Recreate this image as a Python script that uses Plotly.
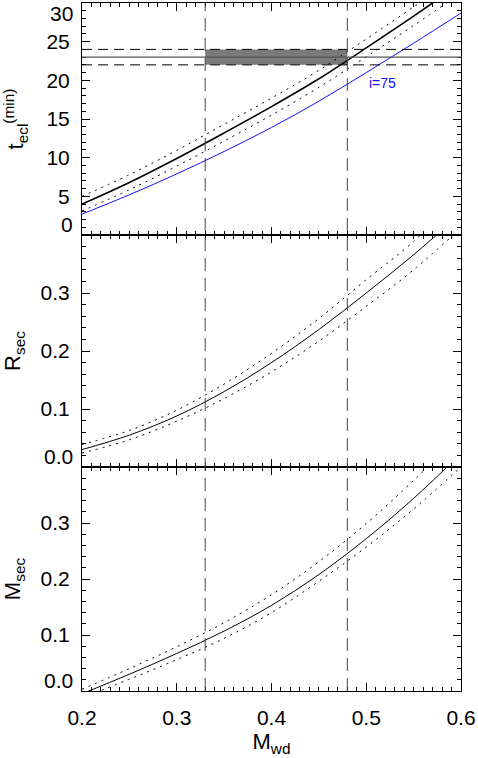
import plotly.graph_objects as go

# ---------------- data ----------------
m_wd = [0.20, 0.25, 0.30, 0.35, 0.40, 0.45, 0.50, 0.55, 0.60]

t_ecl = [4.0, 6.8, 9.9, 13.2, 16.6, 20.2, 24.2, 28.3, 32.6]
t_ecl_hi = [5.0, 7.8, 10.95, 14.3, 17.7, 21.3, 25.35, 29.5, 33.9]
t_ecl_lo = [3.1, 5.85, 8.9, 12.15, 15.5, 19.1, 23.05, 27.1, 31.3]
t_ecl_i75 = [2.7, 5.2, 7.9, 10.8, 13.9, 17.3, 21.0, 24.8, 28.7]

r_sec = [0.030, 0.055, 0.088, 0.130, 0.180, 0.237, 0.300, 0.366, 0.437]
r_sec_hi = [0.039, 0.063, 0.098, 0.143, 0.196, 0.256, 0.323, 0.389, 0.470]
r_sec_lo = [0.024, 0.047, 0.079, 0.118, 0.164, 0.217, 0.277, 0.340, 0.412]

m_sec = [-0.005, 0.030, 0.067, 0.107, 0.153, 0.208, 0.272, 0.344, 0.424]
m_sec_hi = [0.003, 0.040, 0.079, 0.122, 0.172, 0.231, 0.299, 0.376, 0.460]
m_sec_lo = [-0.012, 0.021, 0.056, 0.094, 0.140, 0.196, 0.257, 0.325, 0.400]

m_wd_limits = [0.33, 0.48]
t_obs = 23.0
t_obs_lo = 22.0
t_obs_hi = 24.0

t_ticks = [0, 5, 10, 15, 20, 25, 30]
t_ticktext = ["", "5", "10", "15", "20", "25", ""]
frac_ticks = [0.0, 0.1, 0.2, 0.3, 0.4]
frac_ticktext = ["", "0.1", "0.2", "0.3", ""]
x_ticks = [0.2, 0.3, 0.4, 0.5, 0.6]
x_ticktext = ["0.2", "0.3", "0.4", "0.5", "0.6"]

# ---------------- figure ----------------
FONT = "Liberation Sans, Arial, Helvetica, sans-serif"
DOT = "2px,5px"
fig = go.Figure()

def add(x, y, xa, ya, color="black", width=1.0, dash="solid"):
    fig.add_trace(go.Scatter(x=x, y=y, xaxis=xa, yaxis=ya, mode="lines",
                             line=dict(color=color, width=width, dash=dash, shape="spline", smoothing=1.0),
                             showlegend=False, hoverinfo="skip"))

add(m_wd, t_ecl_hi, "x", "y", dash=DOT)
add(m_wd, t_ecl_lo, "x", "y", dash=DOT)
add(m_wd, t_ecl, "x", "y", width=1.6)
add(m_wd, t_ecl_i75, "x", "y", color="#1010ff", width=1.0)

add(m_wd, r_sec_hi, "x2", "y2", dash=DOT)
add(m_wd, r_sec_lo, "x2", "y2", dash=DOT)
add(m_wd, r_sec, "x2", "y2", width=1.0)

add(m_wd, m_sec_hi, "x3", "y3", dash=DOT)
add(m_wd, m_sec_lo, "x3", "y3", dash=DOT)
add(m_wd, m_sec, "x3", "y3", width=1.0)

shapes = []
# observed eclipse-duration band
shapes.append(dict(type="rect", xref="x", yref="y", x0=m_wd_limits[0], x1=m_wd_limits[1],
                   y0=t_obs_lo, y1=t_obs_hi, fillcolor="#7a7a7a", line=dict(width=0), layer="below"))
for yv in (t_obs_lo, t_obs_hi):
    shapes.append(dict(type="line", xref="x domain", yref="y", x0=0, x1=1, y0=yv, y1=yv,
                       line=dict(color="black", width=1, dash="10px,6px")))
shapes.append(dict(type="line", xref="x domain", yref="y", x0=0, x1=1, y0=t_obs, y1=t_obs,
                   line=dict(color="#555555", width=1.2)))
for xv in m_wd_limits:
    shapes.append(dict(type="line", xref="x", yref="paper", x0=xv, x1=xv, y0=0, y1=1,
                       line=dict(color="#444444", width=1, dash="13px,7px")))

annotations = [
    dict(text="i=75", x=0.501, y=19.7, xref="x", yref="y", xanchor="left", yanchor="middle",
         showarrow=False, font=dict(family=FONT, size=14, color="#1010ff")),
    dict(text="30", x=0, y=30, xref="x domain", yref="y", xanchor="right", yanchor="top",
         xshift=-7, yshift=3, showarrow=False, font=dict(family=FONT, size=21, color="black")),
    dict(text="0", x=0, y=0, xref="x domain", yref="y", xanchor="right", yanchor="bottom",
         xshift=-7, yshift=-3, showarrow=False, font=dict(family=FONT, size=21, color="black")),
    dict(text="0.0", x=0, y=0, xref="x2 domain", yref="y2", xanchor="right", yanchor="bottom",
         xshift=-7, yshift=-3, showarrow=False, font=dict(family=FONT, size=21, color="black")),
    dict(text="0.0", x=0, y=0, xref="x3 domain", yref="y3", xanchor="right", yanchor="bottom",
         xshift=-7, yshift=-3, showarrow=False, font=dict(family=FONT, size=21, color="black")),
]

def xaxis(anchor, labels):
    return dict(anchor=anchor, domain=[0, 1], range=[0.2, 0.6], tickvals=x_ticks, ticktext=x_ticktext,
                showticklabels=labels, ticks="inside", ticklen=8, tickcolor="black", tickwidth=1,
                minor=dict(ticks="inside", dtick=0.01, tick0=0.2, ticklen=4, tickcolor="black", tickwidth=1),
                showline=True, linecolor="black", linewidth=1, mirror="allticks",
                showgrid=False, zeroline=False, automargin=False,
                tickfont=dict(family=FONT, size=21, color="black"), ticklabelstandoff=8)

def yaxis(anchor, dom, rng, tv, tt, dminor, title, standoff):
    return dict(anchor=anchor, domain=dom, range=rng, tickvals=tv, ticktext=tt,
                ticks="inside", ticklen=8, tickcolor="black", tickwidth=1,
                minor=dict(ticks="inside", dtick=dminor, tick0=0, ticklen=4, tickcolor="black", tickwidth=1),
                showline=True, linecolor="black", linewidth=1, mirror="allticks",
                showgrid=False, zeroline=False, automargin=False,
                tickfont=dict(family=FONT, size=21, color="black"), ticklabelstandoff=7,
                title=dict(text=title, font=dict(family=FONT, size=22, color="black"), standoff=standoff))

d1 = [456 / 688, 1.0]
d2 = [224 / 688, 456 / 688]
d3 = [0.0, 224 / 688]

fig.update_layout(
    width=478, height=758,
    margin=dict(l=82, r=17, t=3, b=67, autoexpand=False),
    paper_bgcolor="white", plot_bgcolor="white",
    font=dict(family=FONT, color="black"),
    xaxis=xaxis("y", False),
    xaxis2=xaxis("y2", False),
    xaxis3=dict(xaxis("y3", True),
                title=dict(text="M<sub>wd</sub>", font=dict(family=FONT, size=22, color="black"), standoff=2)),
    yaxis=yaxis("x", d1, [0, 30], t_ticks, t_ticktext, 1, "t<sub>ecl</sub><sup>(min)</sup>", 16),
    yaxis2=yaxis("x2", d2, [0, 0.4], frac_ticks, frac_ticktext, 0.02, "R<sub>sec</sub>", 15),
    yaxis3=yaxis("x3", d3, [0, 0.4], frac_ticks, frac_ticktext, 0.02, "M<sub>sec</sub>", 16),
    shapes=shapes,
    annotations=annotations,
)

fig.write_html("out.html", config={"displayModeBar": False},
               post_script="document.body.style.margin='0';document.body.style.overflow='hidden';")
